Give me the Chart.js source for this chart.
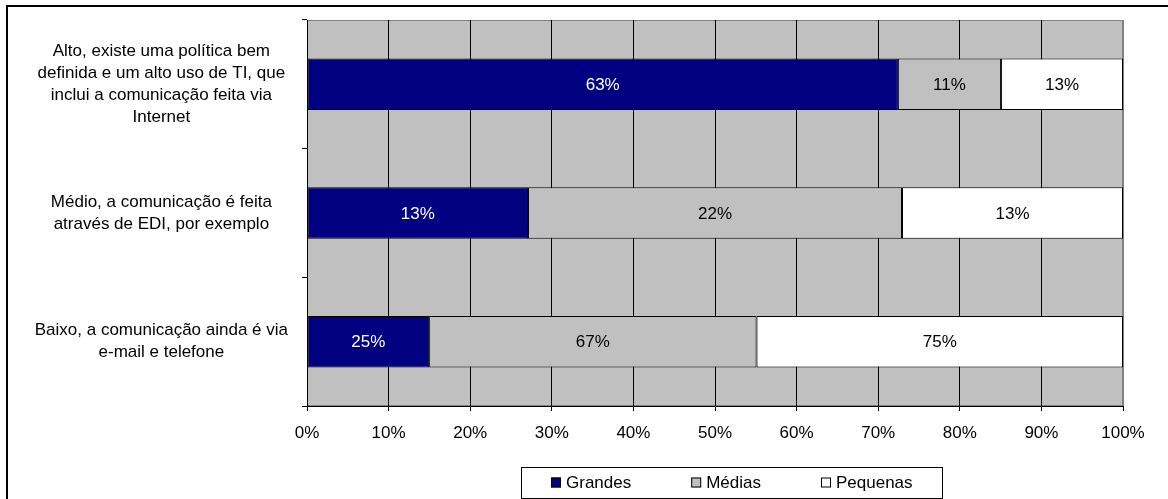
<!DOCTYPE html>
<html>
<head>
<meta charset="utf-8">
<script src="https://cdn.jsdelivr.net/npm/chart.js@4.4.0/dist/chart.umd.min.js"></script>
<style>
  html, body { margin: 0; padding: 0; background: #fff; overflow: hidden; }
  .frame { position: absolute; left: 6px; top: 5px; width: 1300px; height: 700px; border: 2px solid #000; }
  .wrap { position: absolute; left: 0; top: 0; width: 1168px; height: 499px; }
</style>
</head>
<body>
<div class="frame"></div>
<div class="wrap"><canvas id="chart" width="1168" height="499"></canvas></div>
<script>
const categories = [
  ["Alto, existe uma política bem", "definida e um alto uso de TI, que", "inclui a comunicação feita via", "Internet"],
  ["Médio, a comunicação é feita", "através de EDI, por exemplo"],
  ["Baixo, a comunicação ainda é via", "e-mail e telefone"]
];
const seriesNames = ["Grandes", "Médias", "Pequenas"];
const grandes = [63, 13, 25];
const medias = [11, 22, 67];
const pequenas = [13, 13, 75];
const seriesColors = ["#000080", "#c0c0c0", "#ffffff"];
const textColors = ["#ffffff", "#000000", "#000000"];

const FONT = "'Liberation Sans', Arial, sans-serif";

// each row is shown as 100% stacked, labels keep the original values
const rows = [grandes, medias, pequenas];
const totals = categories.map((c, i) => grandes[i] + medias[i] + pequenas[i]);
const shareOf = (arr) => arr.map((v, i) => (v / totals[i]) * 100);

const datasets = rows.map((values, k) => ({
  label: seriesNames[k],
  data: shareOf(values),
  raw: values,
  backgroundColor: seriesColors[k],
  borderColor: "#000",
  borderWidth: 1,
  borderSkipped: false,
  categoryPercentage: 0.8,
  barPercentage: 0.5,
}));

const plotBackground = {
  id: "plotBackground",
  beforeDraw(chart) {
    const { ctx, chartArea: a } = chart;
    ctx.save();
    ctx.fillStyle = "#c0c0c0";
    ctx.fillRect(a.left, a.top, a.right - a.left, a.bottom - a.top);
    ctx.strokeStyle = "#808080";
    ctx.lineWidth = 1;
    ctx.strokeRect(a.left + 0.5, a.top + 0.5, a.right - a.left - 1, a.bottom - a.top - 1);
    ctx.restore();
  },
};

const barLabels = {
  id: "barLabels",
  afterDatasetsDraw(chart) {
    const ctx = chart.ctx;
    ctx.save();
    ctx.font = "17px " + FONT;
    ctx.textAlign = "center";
    ctx.textBaseline = "middle";
    chart.data.datasets.forEach((ds, i) => {
      const meta = chart.getDatasetMeta(i);
      meta.data.forEach((bar, j) => {
        const p = bar.getProps(["x", "y", "base"], true);
        ctx.fillStyle = textColors[i];
        ctx.fillText(ds.raw[j] + "%", (p.x + p.base) / 2, p.y + 1);
      });
    });
    ctx.restore();
  },
};

// boxed legend under the axis
const boxLegend = {
  id: "boxLegend",
  afterDraw(chart) {
    const ctx = chart.ctx;
    const left = 521, top = 467, w = 421, h = 31;
    const sq = 10, gap = 5, spacing = 60;
    ctx.save();
    ctx.strokeStyle = "#000";
    ctx.lineWidth = 1;
    ctx.strokeRect(left + 0.5, top + 0.5, w, h);
    ctx.font = "17px " + FONT;
    ctx.textBaseline = "middle";
    const items = chart.data.datasets.map((ds) => ({
      label: ds.label,
      color: ds.backgroundColor,
      width: ctx.measureText(ds.label).width,
    }));
    const total = items.reduce((s, it) => s + sq + gap + it.width, 0) + spacing * (items.length - 1);
    let x = Math.round(left + (w - total) / 2);
    const cy = top + h / 2;
    items.forEach((it) => {
      ctx.fillStyle = it.color;
      ctx.fillRect(x, cy - 5, sq, sq);
      ctx.strokeRect(x + 0.5, cy - 4.5, sq - 1, sq - 1);
      ctx.fillStyle = "#000";
      ctx.fillText(it.label, x + sq + gap, cy + 1);
      x += sq + gap + it.width + spacing;
    });
    ctx.restore();
  },
};

new Chart(document.getElementById("chart"), {
  type: "bar",
  data: { labels: categories, datasets: datasets },
  options: {
    indexAxis: "y",
    responsive: false,
    animation: false,
    layout: { padding: { top: 20, right: 45, bottom: 53, left: 0 } },
    plugins: { legend: { display: false }, tooltip: { enabled: false } },
    scales: {
      x: {
        stacked: true,
        min: 0,
        max: 100,
        ticks: {
          stepSize: 10,
          callback: (v) => v + "%",
          color: "#000",
          font: { family: FONT, size: 17 },
          padding: 12,
        },
        grid: {
          color: (c) => (c.tick && c.tick.value === 100 ? "#808080" : "#000"),
          tickColor: "#000",
          tickLength: 5,
        },
        border: { color: "#000" },
        afterFit(s) { s.height = 40; s.paddingRight = 0; },
      },
      y: {
        stacked: true,
        offset: true,
        ticks: {
          autoSkip: false,
          crossAlign: "center",
          padding: 14,
          color: "#000",
          font: { family: FONT, size: 17, lineHeight: 1.3 },
        },
        grid: { drawOnChartArea: false, offset: true, color: "#000", tickLength: 5 },
        border: { color: "#000" },
        afterFit(s) { s.width = 307; s.paddingTop = 0; s.paddingBottom = 0; },
      },
    },
  },
  plugins: [plotBackground, barLabels, boxLegend],
});
</script>
</body>
</html>
